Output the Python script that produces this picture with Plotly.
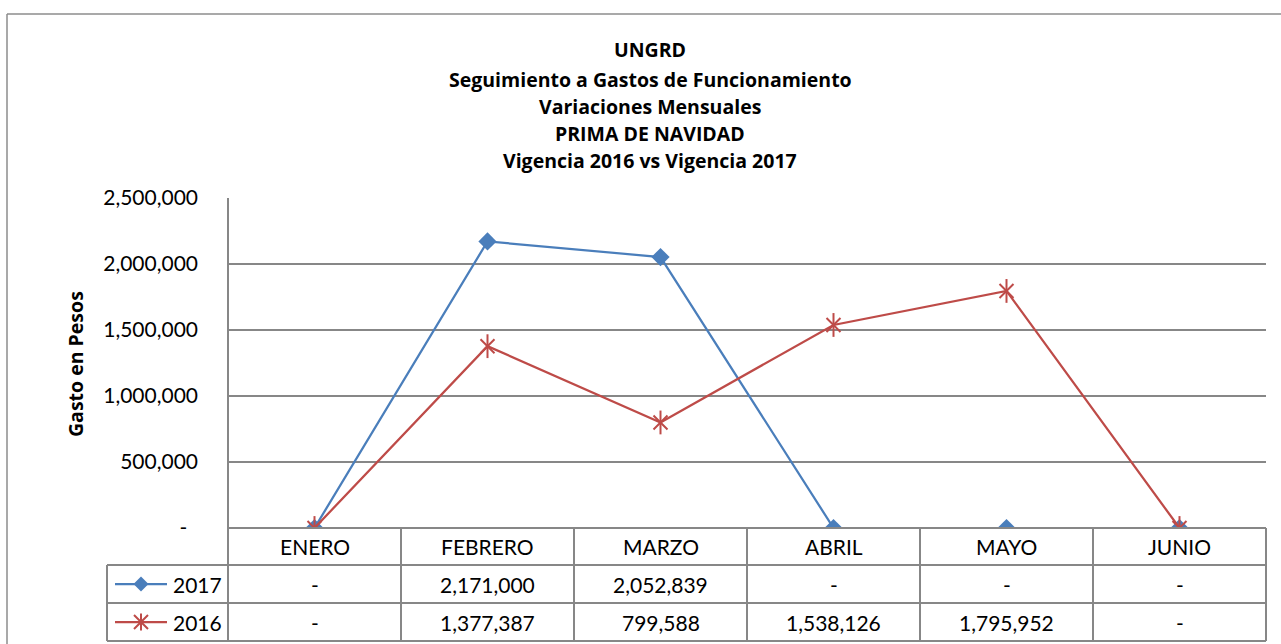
import plotly.graph_objects as go

# ---------------- data ----------------
months = ["ENERO", "FEBRERO", "MARZO", "ABRIL", "MAYO", "JUNIO"]
vals_2017 = [0, 2171000, 2052839, 0, 0, 0]
vals_2016 = [0, 1377387, 799588, 1538126, 1795952, 0]
series_names = ["2017", "2016"]
y_ticks = [0, 500000, 1000000, 1500000, 2000000, 2500000]
title_lines = ["UNGRD", "Seguimiento a Gastos de Funcionamiento", "Variaciones Mensuales",
               "PRIMA DE NAVIDAD", "Vigencia 2016 vs Vigencia 2017"]
y_title = "Gasto en Pesos"

# ---------------- layout constants ----------------
W, H = 1281, 644
PL, PR, PT, PB = 228, 1266, 198, 528   # plot area in pixels
ROWS = [528, 565, 603, 641]            # table horizontal lines
LEG_X = 107
BLUE = "#4A7EBB"
RED = "#BE4B48"
GRID = "#878787"
FONT = "Lato, sans-serif"
TFONT = "Open Sans, sans-serif"


def px(x):
    return x / W


def py(y):
    return 1 - y / H


def fmt(v):
    return "-" if v == 0 else f"{v:,}"


fig = go.Figure()

fig.add_trace(go.Scatter(x=months, y=vals_2017, mode="lines+markers", name=series_names[0],
                         line=dict(color=BLUE, width=2.25),
                         marker=dict(symbol="diamond", size=14, color=BLUE, line=dict(width=0))))
fig.add_trace(go.Scatter(x=months, y=vals_2016, mode="lines+markers", name=series_names[1],
                         line=dict(color=RED, width=2.25),
                         marker=dict(symbol="x-thin-open", size=14, color=RED, line=dict(width=2, color=RED))))
fig.add_trace(go.Scatter(x=months, y=vals_2016, mode="markers", showlegend=False,
                         marker=dict(symbol="line-ns-open", size=17, color=RED, line=dict(width=2, color=RED))))

shapes = []
line_gray = dict(color=GRID, width=2)
# outer chart border
shapes.append(dict(type="line", xref="paper", yref="paper", x0=px(7), x1=px(W + 5), y0=py(14), y1=py(14),
                   line=dict(color="#8C8C8C", width=1.5)))
shapes.append(dict(type="line", xref="paper", yref="paper", x0=px(7), x1=px(7), y0=py(14), y1=py(H + 5),
                   line=dict(color="#8C8C8C", width=1.5)))
# table horizontal lines
for i, yy in enumerate(ROWS):
    x0 = PL if i == 0 else LEG_X
    shapes.append(dict(type="line", xref="paper", yref="paper", x0=px(x0), x1=px(PR), y0=py(yy), y1=py(yy),
                       line=line_gray))
# table vertical lines
ncol = len(months)
for k in range(ncol + 1):
    xx = PL + (PR - PL) * k / ncol
    y0 = PT if k == 0 else ROWS[0]
    shapes.append(dict(type="line", xref="paper", yref="paper", x0=px(xx), x1=px(xx), y0=py(y0), y1=py(ROWS[-1]),
                       line=line_gray))
shapes.append(dict(type="line", xref="paper", yref="paper", x0=px(LEG_X), x1=px(LEG_X), y0=py(ROWS[1]),
                   y1=py(ROWS[-1]), line=line_gray))

# legend keys inside the table
for r, color in enumerate([BLUE, RED]):
    yc = (ROWS[r + 1] + ROWS[r + 2]) / 2
    shapes.append(dict(type="line", xref="paper", yref="paper", x0=px(115), x1=px(167), y0=py(yc), y1=py(yc),
                       line=dict(color=color, width=2.25)))
    cx = 141
    if r == 0:
        d = 7.5
        path = (f"M{px(cx - d)},{py(yc)} L{px(cx)},{py(yc - d)} L{px(cx + d)},{py(yc)} "
                f"L{px(cx)},{py(yc + d)} Z")
        shapes.append(dict(type="path", xref="paper", yref="paper", path=path, fillcolor=color,
                           line=dict(color=color, width=0)))
    else:
        d = 7
        path = (f"M{px(cx - d)},{py(yc - d)} L{px(cx + d)},{py(yc + d)} "
                f"M{px(cx - d)},{py(yc + d)} L{px(cx + d)},{py(yc - d)} "
                f"M{px(cx)},{py(yc - 8.5)} L{px(cx)},{py(yc + 8.5)}")
        shapes.append(dict(type="path", xref="paper", yref="paper", path=path,
                           line=dict(color=color, width=2)))

annotations = []
title_y = [50, 79, 106, 133, 160]
for t, yy in zip(title_lines, title_y):
    annotations.append(dict(text=f"<b>{t}</b>", x=px(650), y=py(yy), xref="paper", yref="paper",
                            showarrow=False, xanchor="center", yanchor="middle",
                            font=dict(family=TFONT, size=19.5, color="black")))
annotations.append(dict(text=f"<b>{y_title}</b>", x=px(75), y=py(364), xref="paper", yref="paper",
                        showarrow=False, textangle=-90, xanchor="center", yanchor="middle",
                        font=dict(family=TFONT, size=19.5, color="black")))
for m in months:
    annotations.append(dict(text=m, x=m, y=py((ROWS[0] + ROWS[1]) / 2), xref="x", yref="paper",
                            showarrow=False, yanchor="middle", font=dict(family=FONT, size=21, color="black")))
for r, vals in enumerate([vals_2017, vals_2016]):
    yc = (ROWS[r + 1] + ROWS[r + 2]) / 2
    annotations.append(dict(text=series_names[r], x=px(171), y=py(yc), xref="paper", yref="paper",
                            xanchor="left", yanchor="middle", showarrow=False,
                            font=dict(family=FONT, size=21, color="black")))
    for m, v in zip(months, vals):
        annotations.append(dict(text=fmt(v), x=m, y=py(yc), xref="x", yref="paper", yanchor="middle",
                                showarrow=False, font=dict(family=FONT, size=21, color="black")))

fig.update_layout(
    width=W, height=H, margin=dict(l=0, r=0, t=0, b=0, pad=0), autosize=False,
    paper_bgcolor="white", plot_bgcolor="rgba(0,0,0,0)", showlegend=False,
    xaxis=dict(domain=[px(PL), px(PR)], range=[-0.5, ncol - 0.5], showticklabels=False, automargin=False,
               showgrid=False, zeroline=False, showline=False, fixedrange=True),
    yaxis=dict(domain=[py(PB), py(PT)], range=[0, 2500000], tickvals=y_ticks, automargin=False,
               ticktext=["-\u00a0\u00a0"] + [f"{v:,}" for v in y_ticks[1:]],
               showgrid=True, gridcolor=GRID, gridwidth=2, zeroline=False, showline=False,
               ticks="", ticklabelstandoff=29, tickfont=dict(family=FONT, size=21, color="black")),
    shapes=shapes, annotations=annotations,
)

fig.write_html("out.html", config={"displayModeBar": False},
               post_script="document.body.style.margin='0';document.body.style.overflow='hidden';")
